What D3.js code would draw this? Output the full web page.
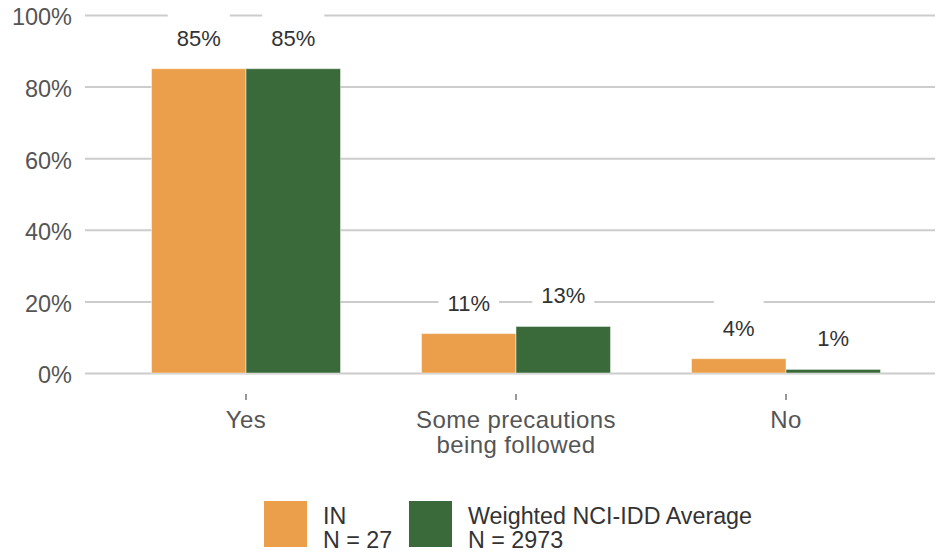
<!DOCTYPE html>
<html>
<head>
<meta charset="utf-8">
<script src="https://cdn.jsdelivr.net/npm/d3@7"></script>
<style>
  body { margin: 0; background: #fff; }
  svg { display: block; font-family: "Liberation Sans", Arial, sans-serif; }
</style>
</head>
<body>
<div class="chart"></div>
<script>
const width = 936;
const height = 554;

// data
const categories = ["Yes", "Some precautions\nbeing followed", "No"];
const series_names = ["IN", "Weighted NCI-IDD Average"];
const series_n = ["N = 27", "N = 2973"];
const series_colors = ["#eb9f4a", "#3a6a3a"];
const in_values = [0.85, 0.11, 0.04];
const avg_values = [0.85, 0.13, 0.01];
const y_ticks = [0, 0.2, 0.4, 0.6, 0.8, 1.0];

let svg = d3.select(".chart").append("svg")
	.attr("width", width)
	.attr("height", height);

// scales
let x = d3.scaleBand()
	.domain(categories)
	.range([111, 921])
	.paddingInner(0.3)
	.paddingOuter(0.15);
let x_inner = d3.scaleBand()
	.domain([0, 1])
	.range([0, x.bandwidth()]);
let y = d3.scaleLinear()
	.domain([0, 1])
	.range([373, 15]);

// gridlines + y labels
let y_axis = d3.axisLeft(y)
	.tickValues(y_ticks)
	.tickSize(-(935 - 85))
	.tickPadding(13)
	.tickFormat(d3.format(".0%"));
let y_g = svg.append("g")
	.attr("transform", "translate(85,0)")
	.call(y_axis);
y_g.select(".domain").remove();
y_g.selectAll(".tick line")
	.attr("stroke", "#cccccc")
	.attr("stroke-width", 2);
y_g.selectAll(".tick text")
	.attr("fill", "#555")
	.attr("font-size", 23.5)
	.attr("dy", "0.42em");

// flatten to one row per bar
let bars = [];
categories.forEach(function(c, i) {
	bars.push({cat: c, s: 0, v: in_values[i]});
	bars.push({cat: c, s: 1, v: avg_values[i]});
});

// white boxes behind value labels (they cut the gridlines)
let label_bg = svg.append("g");
let bar_g = svg.append("g");
let label_g = svg.append("g");

bar_g.selectAll("rect")
	.data(bars)
	.enter().append("rect")
	.attr("x", function(d) { return x(d.cat) + x_inner(d.s); })
	.attr("y", function(d) { return y(d.v); })
	.attr("width", x_inner.bandwidth())
	.attr("height", function(d) { return y(0) - y(d.v); })
	.attr("fill", function(d) { return series_colors[d.s]; })
	.attr("stroke", "rgba(255,255,255,0.45)")
	.attr("stroke-width", 1);

let labels = label_g.selectAll("text")
	.data(bars)
	.enter().append("text")
	.attr("x", function(d) { return x(d.cat) + x_inner(d.s) + x_inner.bandwidth() / 2; })
	.attr("y", function(d) { return y(d.v) - 23; })
	.attr("text-anchor", "middle")
	.attr("font-size", 22)
	.attr("fill", "#333")
	.text(function(d) { return d3.format(".0%")(d.v); });

labels.each(function(d) {
	let w = this.getComputedTextLength() + 18;
	let cx = x(d.cat) + x_inner(d.s) + x_inner.bandwidth() / 2;
	label_bg.append("rect")
		.attr("x", cx - w / 2)
		.attr("y", y(d.v) - 62)
		.attr("width", w)
		.attr("height", 58)
		.attr("fill", "#fff");
});

// category axis
let x_g = svg.append("g");
categories.forEach(function(c) {
	let cx = x(c) + x.bandwidth() / 2;
	x_g.append("line")
		.attr("x1", cx).attr("x2", cx)
		.attr("y1", 394).attr("y2", 400)
		.attr("stroke", "#333")
		.attr("stroke-width", 1);
	let t = x_g.append("text")
		.attr("x", cx)
		.attr("y", 428)
		.attr("text-anchor", "middle")
		.attr("font-size", 24)
		.attr("letter-spacing", 0.4)
		.attr("fill", "#555");
	c.split("\n").forEach(function(line, k) {
		t.append("tspan")
			.attr("x", cx)
			.attr("dy", k == 0 ? 0 : 25)
			.text(line);
	});
});

// legend
const legend_x = [264, 409];
let legend = svg.append("g");
series_names.forEach(function(name, i) {
	legend.append("rect")
		.attr("x", legend_x[i])
		.attr("y", 501)
		.attr("width", 43)
		.attr("height", 46)
		.attr("fill", series_colors[i]);
	let t = legend.append("text")
		.attr("x", legend_x[i] + 59)
		.attr("y", 524)
		.attr("font-size", 23.3)
		.attr("fill", "#333");
	t.append("tspan").attr("x", legend_x[i] + 59).text(name);
	t.append("tspan").attr("x", legend_x[i] + 59).attr("dy", 24).text(series_n[i]);
});
</script>
</body>
</html>
